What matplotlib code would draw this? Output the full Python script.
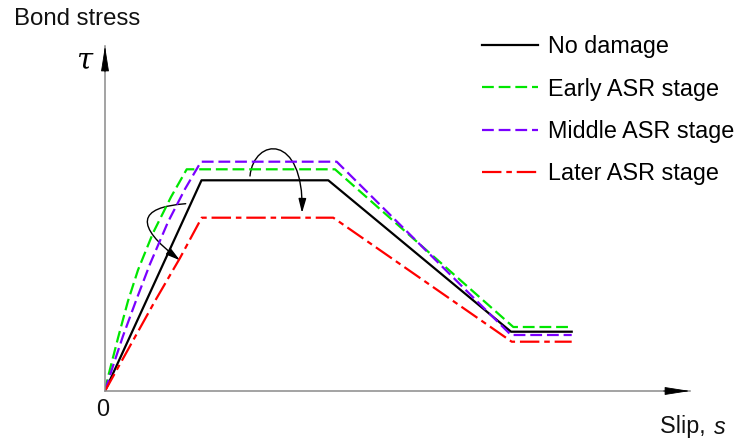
import matplotlib
matplotlib.use("Agg")
import matplotlib.pyplot as plt
from matplotlib.patches import FancyArrowPatch
from matplotlib.path import Path

plt.rcParams['font.family'] = ['Liberation Sans', 'DejaVu Sans']
plt.rcParams['lines.scale_dashes'] = False

# Bond stress-slip curves (slip s, bond stress tau), arbitrary units
labels = ["No damage", "Early ASR stage", "Middle ASR stage", "Later ASR stage"]

s_none = [0, 0.965, 2.233, 4.06, 4.667]
tau_none = [0, 2.107, 2.107, 0.593, 0.593]

s_early = [0, 0.03, 0.13, 0.23, 0.33, 0.48, 0.66, 0.817, 2.30, 4.083, 4.667]
tau_early = [0, 0.14, 0.53, 0.90, 1.21, 1.58, 1.94, 2.217, 2.217, 0.64, 0.64]

s_middle = [0, 0.08, 0.18, 0.32, 0.45, 0.63, 0.80, 0.96, 2.317, 4.06, 4.667]
tau_middle = [0, 0.25, 0.55, 0.93, 1.27, 1.69, 2.02, 2.293, 2.293, 0.56, 0.56]

s_later = [0, 0.25, 0.50, 0.75, 0.967, 2.283, 4.067, 4.667]
tau_later = [0, 0.45, 0.90, 1.33, 1.733, 1.733, 0.493, 0.493]

# Curved arrows showing the trend of the ascending branch and the peak stress
arrow_rise = [(0.807, 1.873), (0.08, 1.82), (0.75, 1.307)]
arrow_peak = [(1.45, 2.15), (1.49, 2.54), (1.99, 2.58), (1.97, 1.78)]

W, H = 739, 443
fig = plt.figure(figsize=(W / 100, H / 100), dpi=100)
ax = fig.add_axes([105 / W, 52 / H, 585 / W, 345 / H])
ax.set_xlim(0, 5.85)
ax.set_ylim(0, 3.45)
ax.set_xticks([])
ax.set_yticks([])
for side in ("top", "right"):
    ax.spines[side].set_visible(False)
for side in ("left", "bottom"):
    ax.spines[side].set_color("#8a8a8a")
    ax.spines[side].set_linewidth(1.1)

# axis arrowheads
head = dict(arrowstyle="-|>,head_length=16,head_width=2.5", mutation_scale=1,
            color="black", lw=0.6, shrinkA=0, shrinkB=0)
ax.annotate("", xy=(1, 0), xycoords="axes fraction", xytext=(0.955, 0),
            arrowprops=head, annotation_clip=False)
ax.annotate("", xy=(0, 1), xycoords="axes fraction", xytext=(0, 0.925),
            arrowprops=head, annotation_clip=False)

lw = 1.6
ax.plot(s_none, tau_none, color="black", lw=lw, label=labels[0])
ax.plot(s_early, tau_early, color="#00e600", lw=lw, dashes=(8.5, 3.5), label=labels[1])
ax.plot(s_middle, tau_middle, color="#7a00ff", lw=lw, dashes=(8.5, 3.5), label=labels[2])
ax.plot(s_later, tau_later, color="#ff0000", lw=lw, dashes=(14, 3.5, 4, 3.5), label=labels[3])

p1 = Path(arrow_rise, [Path.MOVETO, Path.CURVE3, Path.CURVE3])
ax.add_patch(FancyArrowPatch(path=p1, arrowstyle="-|>,head_length=8.5,head_width=2.3",
                             mutation_scale=1, color="black", lw=1.0))
p2 = Path(arrow_peak, [Path.MOVETO, Path.CURVE4, Path.CURVE4, Path.CURVE4])
ax.add_patch(FancyArrowPatch(path=p2, arrowstyle="-|>,head_length=8.5,head_width=2.3",
                             mutation_scale=1, color="black", lw=1.0))

fs = 16.8
leg = ax.legend(loc="upper left", bbox_to_anchor=(482 / W, 1 - 35.5 / H),
                bbox_transform=fig.transFigure, frameon=False, fontsize=fs,
                handlelength=2.4, handletextpad=0.45, labelspacing=0.82,
                borderpad=0, borderaxespad=0)

fig.text(14 / W, 1 - 19 / H, "Bond stress", fontsize=17.3, va="center", ha="left", color="#111111")
fig.text(84 / W, 1 - 60 / H, "τ", fontsize=21, fontstyle="italic", va="center", ha="center",
         family=["DejaVu Serif"])
fig.text(103 / W, 1 - 409 / H, "0", fontsize=fs, va="center", ha="center", color="#111111")
fig.text(660 / W, 1 - 427 / H, "Slip, ", fontsize=fs, va="center", ha="left", color="#111111")
fig.text(714 / W, 1 - 427 / H, "s", fontsize=fs, fontstyle="italic", va="center", ha="left",
         color="#111111")

fig.savefig("out.png", dpi=100)
